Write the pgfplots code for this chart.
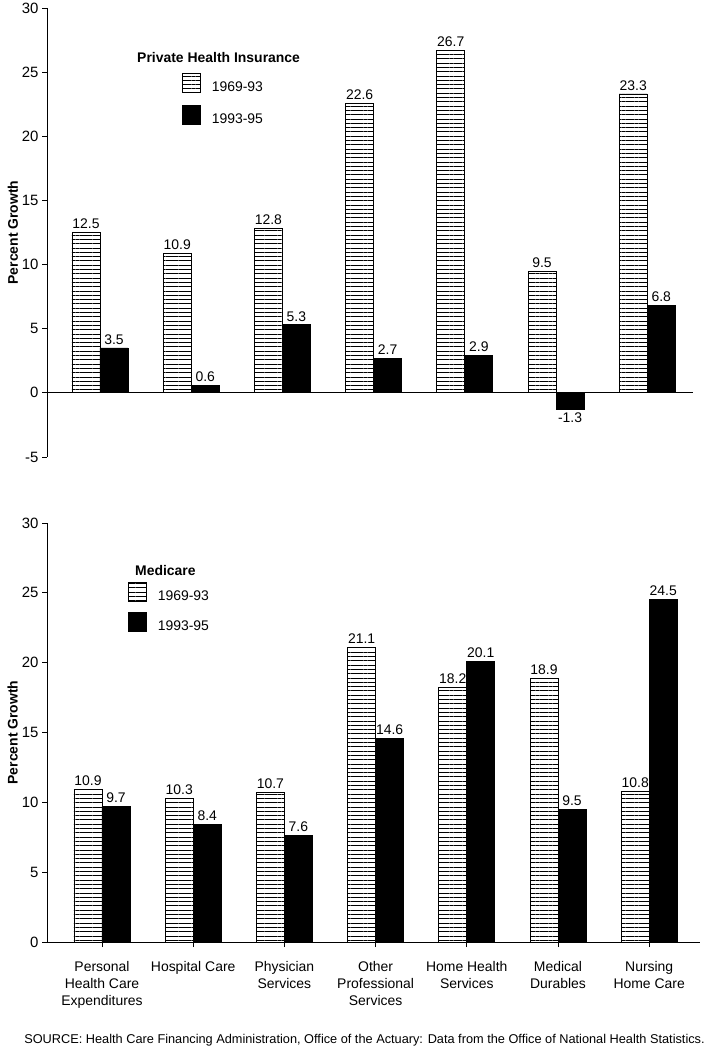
\documentclass[border=0pt]{standalone}
\usepackage{fontspec}
\setmainfont{Liberation Sans}
\usepackage{pgfplots}
\pgfplotsset{compat=1.18}
\usetikzlibrary{patterns.meta}
\begin{document}
\begin{tikzpicture}
\pgfplotsset{
  hatch/.style={draw=black, line width=0.8pt, pattern={Lines[angle=0,distance=4.3bp,line width=0.7bp]}},
  solidbar/.style={draw=black, line width=0.8pt, fill=black},
  common/.style={
    scale only axis, clip=false,
    ybar, bar width=0.307,
    axis line style={-, line width=0.8pt},
    tick style={line width=0.8pt, black},
    tick align=outside, major tick length=5bp,
    /pgf/number format/assume math mode=true,
    yticklabel style={font=\fontsize{15}{17}\selectfont},
    nodes near coords,
    point meta=y,
    nodes near coords align=vertical,
    every node near coord/.append style={font=\fontsize{14}{16}\selectfont, black,
      /pgf/number format/fixed, /pgf/number format/fixed zerofill, /pgf/number format/precision=1},
    ylabel={Percent Growth},
    ylabel style={font=\fontsize{14}{16}\bfseries, anchor=center},
    legend style={draw=none, fill=none, inner sep=0pt, outer sep=0pt,
      row sep=12bp, column sep=11bp, anchor=north west,
      nodes={inner sep=0pt, font=\fontsize{14}{16}\selectfont}},
    legend cell align=left,
    legend image code/.code={\draw[##1, /pgfplots/bar shift=0pt] (0bp,-4.5bp) rectangle (18bp,14bp);},
  }
}
% ---------- top panel ----------
\begin{axis}[common,
  at={(47bp,595bp)}, anchor=south west,
  width=646bp, height=449bp,
  xmin=-0.581, xmax=6.502,
  ymin=-5, ymax=30, ytick={-5,0,5,10,15,20,25,30},
  axis x line*=middle, axis y line*=left, xtick=\empty,
  ylabel style={at={(axis description cs:-0.053,0.5)}},
  legend style={at={(axis description cs:0.209,0.855)}},
]
\addplot[hatch, bar shift=-0.1535] coordinates {
  (0,12.5) (1,10.9) (2,12.8) (3,22.6) (4,26.7) (5,9.5) (6,23.3)};
\addlegendentry{1969-93}
\addplot[solidbar, bar shift=0.1535] coordinates {
  (0,3.5) (1,0.6) (2,5.3) (3,2.7) (4,2.9) (5,-1.3) (6,6.8)};
\addlegendentry{1993-95}
\end{axis}
% ---------- bottom panel ----------
\begin{axis}[common,
  at={(47bp,110bp)}, anchor=south west,
  width=653bp, height=419bp,
  xmin=-0.603, xmax=6.557,
  ymin=0, ymax=30, ytick={0,5,10,15,20,25,30},
  axis x line*=bottom, axis y line*=left,
  xtick={0,1,2,3,4,5,6},
  xticklabels={{Personal\\Health Care\\Expenditures},{Hospital Care},{Physician\\Services},{Other\\Professional\\Services},{Home Health\\Services},{Medical\\Durables},{Nursing\\Home Care}},
  xticklabel style={align=center, font=\fontsize{14}{17}\selectfont, yshift=-11bp},
  ylabel style={at={(axis description cs:-0.0525,0.5)}},
  legend style={at={(axis description cs:0.124,0.859)}, row sep=10bp},
]
\addplot[hatch, bar shift=-0.1535] coordinates {
  (0,10.9) (1,10.3) (2,10.7) (3,21.1) (4,18.2) (5,18.9) (6,10.8)};
\addlegendentry{1969-93}
\addplot[solidbar, bar shift=0.1535] coordinates {
  (0,9.7) (1,8.4) (2,7.6) (3,14.6) (4,20.1) (5,9.5) (6,24.5)};
\addlegendentry{1993-95}
\end{axis}
\node[anchor=west, inner sep=0pt, font=\fontsize{14}{16}\bfseries] at (137bp,994bp) {Private Health Insurance};
\node[anchor=west, inner sep=0pt, font=\fontsize{14}{16}\bfseries] at (135bp,481bp) {Medicare};
\node[inner sep=0pt, font=\fontsize{12.8}{15}\selectfont] at (364.5bp,12bp) {SOURCE: Health Care Financing Administration, Office of the Actuary: Data from the Office of National Health Statistics.};
\pgfresetboundingbox
\useasboundingbox (0,0) rectangle (709bp,1052bp);
\end{tikzpicture}
\end{document}
